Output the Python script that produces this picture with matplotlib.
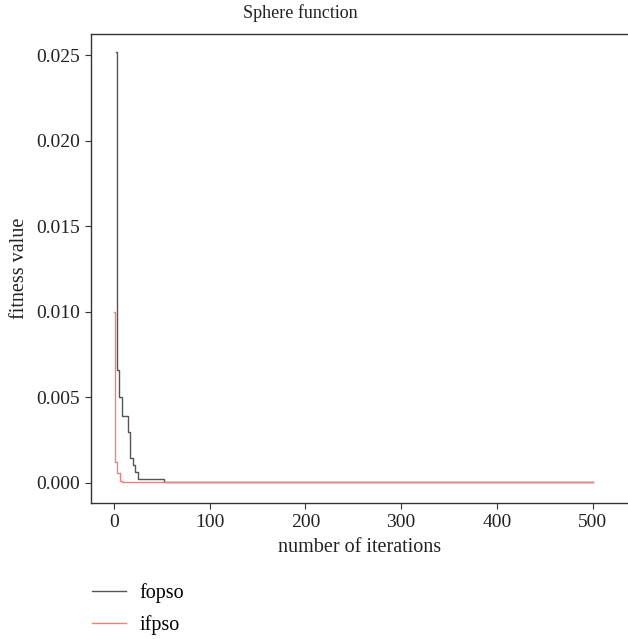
import numpy as np
import matplotlib
matplotlib.use("Agg")
import matplotlib.pyplot as plt

plt.rcParams['font.family'] = ['Liberation Serif', 'DejaVu Serif']

# best fitness so far, given at the iterations where it changes
fopso_iter = [2, 3, 5, 8, 15, 17, 20, 22, 25, 52, 500]
fopso_val = [0.0252, 0.0066, 0.0050, 0.0039, 0.0030, 0.00144, 0.00105, 0.00066, 0.00023, 0.00007, 0.00007]
ifpso_iter = [0, 1, 3, 6, 8, 500]
ifpso_val = [0.0100, 0.00122, 0.00057, 0.00014, 0.00005, 0.00005]

xticks = [0, 100, 200, 300, 400, 500]
yticks = [0.000, 0.005, 0.010, 0.015, 0.020, 0.025]

fig = plt.figure(figsize=(6.28, 6.39), dpi=100)
ax = fig.add_axes([0.1449, 0.2128, 0.8551, 0.734])

ax.plot(fopso_iter, fopso_val, drawstyle="steps-post", color="#555555", lw=1.0, label="fopso")
ax.plot(ifpso_iter, ifpso_val, drawstyle="steps-post", color="#f08080", lw=1.0, label="ifpso")

ax.set_xlim(-24, 537)
ax.set_ylim(-0.00117, 0.02623)
ax.set_xticks(xticks)
ax.set_yticks(yticks)
ax.set_yticklabels([f"{v:.3f}" for v in yticks])

ax.spines["right"].set_visible(False)
for s in ["left", "bottom", "top"]:
    ax.spines[s].set_color("#333333")
    ax.spines[s].set_linewidth(1.0)
ax.tick_params(direction="out", length=4, color="#333333", labelsize=14, labelcolor="#222222", pad=4)

ax.set_xlabel("number of iterations", fontsize=14.5, color="#222222", labelpad=5)
ax.set_ylabel("fitness value", fontsize=14.5, color="#222222", labelpad=5)
fig.text(0.478, 0.979, "Sphere function", ha="center", va="center", fontsize=13, color="#222222")

fig.legend(loc="upper left", bbox_to_anchor=(0.134, 0.100), frameon=False, fontsize=14.5,
           handlelength=1.7, handletextpad=0.65, labelspacing=0.62, borderaxespad=0)

fig.savefig("out.png", dpi=100)
